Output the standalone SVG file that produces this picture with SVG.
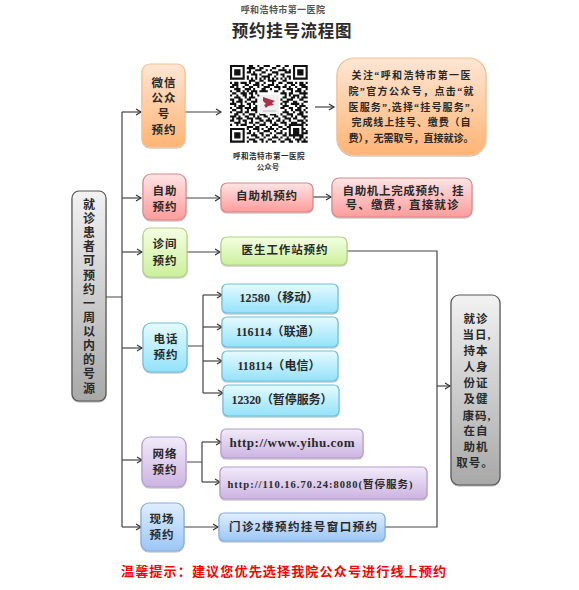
<svg xmlns="http://www.w3.org/2000/svg" width="579" height="590" viewBox="0 0 579 590">
<style>
text{font-family:"Liberation Serif","Noto Sans CJK SC",serif;font-weight:700;fill:#2a2a2a;text-anchor:middle}
.c{font-size:11.5px;letter-spacing:.9px}
.s{font-size:10px}
.l{fill:none;stroke:#444;stroke-width:1.2}
.a{fill:none;stroke:#444;stroke-width:1.2;marker-end:url(#ah)}
rect.o{fill:url(#go);stroke:#f7c08c}
rect.r{fill:url(#gr);stroke:#d88a8a}
rect.g{fill:url(#gg);stroke:#b4d088}
rect.b{fill:url(#gb);stroke:#6cc0dc}
rect.p{fill:url(#gp);stroke:#b49ccc}
rect.u{fill:url(#gu);stroke:#84aedc}
rect.k{fill:url(#gk);stroke:#555}
rect{stroke-width:1.2;filter:url(#sh)}
</style>
<defs>
<filter id="sh" x="-10%" y="-10%" width="120%" height="120%"><feDropShadow dx="0" dy="1" stdDeviation=".6" flood-color="#000" flood-opacity=".3"/></filter>
<marker id="ah" markerWidth="8" markerHeight="8" refX="6.5" refY="4" orient="auto" markerUnits="userSpaceOnUse"><path d="M1.5 1L6.5 4L1.5 7" fill="none" stroke="#333" stroke-width="1.2"/></marker>
<linearGradient id="go" x1="0" y1="0" x2="0" y2="1"><stop offset="0" stop-color="#ffe6d4"/><stop offset="1" stop-color="#ffb474"/></linearGradient>
<linearGradient id="gr" x1="0" y1="0" x2="0" y2="1"><stop offset="0" stop-color="#ffe4e4"/><stop offset="1" stop-color="#ff9c9c"/></linearGradient>
<linearGradient id="gg" x1="0" y1="0" x2="0" y2="1"><stop offset="0" stop-color="#f4ffe2"/><stop offset="1" stop-color="#ccf09c"/></linearGradient>
<linearGradient id="gb" x1="0" y1="0" x2="0" y2="1"><stop offset="0" stop-color="#e6faff"/><stop offset="1" stop-color="#94e2fa"/></linearGradient>
<linearGradient id="gp" x1="0" y1="0" x2="0" y2="1"><stop offset="0" stop-color="#f2ebf9"/><stop offset="1" stop-color="#ccb4e2"/></linearGradient>
<linearGradient id="gu" x1="0" y1="0" x2="0" y2="1"><stop offset="0" stop-color="#e0eeff"/><stop offset="1" stop-color="#9cc6f6"/></linearGradient>
<linearGradient id="gk" x1="0" y1="0" x2="0" y2="1"><stop offset="0" stop-color="#f2f2f2"/><stop offset="1" stop-color="#a8a8a8"/></linearGradient>
</defs>
<rect width="579" height="590" fill="#fff" style="filter:none;stroke:none"/>
<g id="header">
<text x="283" y="13" style="font-size:9px;fill:#555;letter-spacing:.4px">呼和浩特市第一医院</text>
<text x="292" y="37" style="font-size:16.5px;letter-spacing:.7px">预约挂号流程图</text>
</g>
<g id="connectors">
<path class="l" d="M106 297H122M122 112V527M188 346H203M203 295V393M187 462H202M202 442V482M347 251H437V527H385"/>
<path class="a" d="M122 112H141"/><path class="a" d="M122 198H141"/><path class="a" d="M122 252H142"/><path class="a" d="M122 348H142"/><path class="a" d="M122 460H142"/><path class="a" d="M122 527H141"/>
<path class="a" d="M185 112H221"/><path class="a" d="M315 107H334"/><path class="a" d="M186 198H220"/><path class="a" d="M313 197H331"/><path class="a" d="M187 252H220"/>
<path class="a" d="M203 295H222"/><path class="a" d="M203 327H222"/><path class="a" d="M203 361H222"/><path class="a" d="M203 393H223"/>
<path class="a" d="M202 442H221"/><path class="a" d="M202 482H220"/><path class="a" d="M184 527H218"/><path class="a" d="M437 386H450"/>
</g>
<g id="n-source"><rect class="k" x="72" y="191" width="34" height="210" rx="7"/>
<text class="c" style="font-size:12px;letter-spacing:0"><tspan x="89" y="209">就</tspan><tspan x="89" y="223">诊</tspan><tspan x="89" y="237">患</tspan><tspan x="89" y="251">者</tspan><tspan x="89" y="265">可</tspan><tspan x="89" y="280">预</tspan><tspan x="89" y="294">约</tspan><tspan x="89" y="308">一</tspan><tspan x="89" y="322">周</tspan><tspan x="89" y="336">以</tspan><tspan x="89" y="350">内</tspan><tspan x="89" y="364">的</tspan><tspan x="89" y="378">号</tspan><tspan x="89" y="393">源</tspan></text></g>
<g id="n-wechat"><rect class="o" x="142" y="64" width="43" height="83" rx="8"/>
<text class="c"><tspan x="164" y="87">微信</tspan><tspan x="164" y="102">公众</tspan><tspan x="164" y="118">号</tspan><tspan x="164" y="134">预约</tspan></text></g>
<g id="n-qr">
<g transform="translate(230 65) scale(2.1)"><path fill="none" stroke="#111" stroke-width="1" d="M0 .5h7M9 .5h2M13 .5h1M16 .5h3M22 .5h2M26 .5h2M30 .5h7M0 1.5h1M6 1.5h1M8 1.5h4M14 1.5h2M20 1.5h2M25 1.5h1M30 1.5h1M36 1.5h1M0 2.5h1M2 2.5h3M6 2.5h1M9 2.5h1M12 2.5h3M17 2.5h1M19 2.5h1M23 2.5h4M28 2.5h1M30 2.5h1M32 2.5h3M36 2.5h1M0 3.5h1M2 3.5h3M6 3.5h1M8 3.5h2M11 3.5h1M15 3.5h2M20 3.5h3M26 3.5h3M30 3.5h1M32 3.5h3M36 3.5h1M0 4.5h1M2 4.5h3M6 4.5h1M10 4.5h3M14 4.5h1M18 4.5h2M22 4.5h1M24 4.5h2M30 4.5h1M32 4.5h3M36 4.5h1M0 5.5h1M6 5.5h1M8 5.5h1M12 5.5h1M15 5.5h4M21 5.5h1M25 5.5h1M27 5.5h2M30 5.5h1M36 5.5h1M0 6.5h7M8 6.5h1M10 6.5h1M12 6.5h1M14 6.5h1M16 6.5h1M18 6.5h1M20 6.5h1M22 6.5h1M24 6.5h1M26 6.5h1M28 6.5h1M30 6.5h7M9 7.5h3M14 7.5h2M18 7.5h4M25 7.5h2M0 8.5h1M2 8.5h2M5 8.5h3M9 8.5h1M12 8.5h2M16 8.5h1M20 8.5h1M23 8.5h2M27 8.5h3M31 8.5h1M33 8.5h2M36 8.5h1M1 9.5h3M7 9.5h2M11 9.5h3M15 9.5h1M18 9.5h3M22 9.5h1M26 9.5h1M29 9.5h2M33 9.5h3M0 10.5h2M3 10.5h1M6 10.5h1M9 10.5h2M13 10.5h1M16 10.5h3M21 10.5h3M25 10.5h2M28 10.5h1M31 10.5h1M34 10.5h3M2 11.5h3M7 11.5h3M11 11.5h1M15 11.5h2M19 11.5h1M23 11.5h1M27 11.5h3M32 11.5h2M36 11.5h1M0 12.5h1M3 12.5h2M6 12.5h1M8 12.5h1M10 12.5h3M14 12.5h4M21 12.5h2M25 12.5h1M29 12.5h1M31 12.5h3M35 12.5h1M1 13.5h2M5 13.5h3M9 13.5h2M12 13.5h1M24 13.5h3M28 13.5h2M33 13.5h4M0 14.5h1M3 14.5h1M6 14.5h2M10 14.5h1M13 14.5h1M26 14.5h1M28 14.5h1M30 14.5h3M35 14.5h1M2 15.5h3M7 15.5h1M9 15.5h3M25 15.5h2M29 15.5h2M32 15.5h1M34 15.5h3M0 16.5h2M4 16.5h2M8 16.5h2M12 16.5h1M24 16.5h1M27 16.5h3M33 16.5h2M1 17.5h1M3 17.5h3M7 17.5h1M10 17.5h3M25 17.5h3M30 17.5h2M35 17.5h2M0 18.5h3M5 18.5h1M8 18.5h2M11 18.5h1M24 18.5h1M26 18.5h1M29 18.5h4M34 18.5h1M2 19.5h1M4 19.5h3M9 19.5h1M12 19.5h1M25 19.5h3M31 19.5h1M33 19.5h3M0 20.5h1M3 20.5h3M7 20.5h3M11 20.5h2M24 20.5h2M28 20.5h2M32 20.5h2M36 20.5h1M1 21.5h2M5 21.5h1M8 21.5h1M10 21.5h3M26 21.5h1M29 21.5h1M31 21.5h3M35 21.5h1M0 22.5h1M3 22.5h3M7 22.5h2M12 22.5h1M25 22.5h3M30 22.5h1M33 22.5h2M36 22.5h1M2 23.5h2M6 23.5h1M9 23.5h3M14 23.5h3M19 23.5h3M24 23.5h1M27 23.5h3M32 23.5h3M0 24.5h3M4 24.5h1M7 24.5h2M11 24.5h1M13 24.5h1M16 24.5h2M21 24.5h2M25 24.5h2M29 24.5h1M31 24.5h1M34 24.5h3M1 25.5h1M3 25.5h3M8 25.5h3M12 25.5h3M18 25.5h1M20 25.5h1M23 25.5h1M26 25.5h3M30 25.5h2M35 25.5h1M0 26.5h2M4 26.5h1M6 26.5h2M10 26.5h1M14 26.5h2M17 26.5h3M22 26.5h2M25 26.5h1M28 26.5h1M32 26.5h3M36 26.5h1M2 27.5h3M7 27.5h1M9 27.5h2M12 27.5h2M16 27.5h1M19 27.5h1M21 27.5h1M24 27.5h3M29 27.5h3M34 27.5h2M0 28.5h1M3 28.5h1M5 28.5h3M11 28.5h1M14 28.5h3M20 28.5h3M26 28.5h1M28 28.5h7M36 28.5h1M8 29.5h3M12 29.5h2M17 29.5h1M19 29.5h1M23 29.5h2M27 29.5h2M28 29.5h1M34 29.5h1M0 30.5h7M8 30.5h1M11 30.5h3M15 30.5h1M18 30.5h3M22 30.5h1M25 30.5h2M28 30.5h1M30 30.5h3M34 30.5h2M0 31.5h1M6 31.5h1M9 31.5h1M13 31.5h1M16 31.5h3M21 31.5h1M24 31.5h1M28 31.5h1M30 31.5h3M34 31.5h1M36 31.5h1M0 32.5h1M2 32.5h3M6 32.5h1M8 32.5h2M11 32.5h1M14 32.5h2M19 32.5h1M22 32.5h3M26 32.5h1M28 32.5h1M30 32.5h3M34 32.5h3M0 33.5h1M2 33.5h3M6 33.5h1M10 33.5h3M15 33.5h1M17 33.5h2M21 33.5h1M25 33.5h2M28 33.5h7M0 34.5h1M2 34.5h3M6 34.5h1M8 34.5h1M12 34.5h2M16 34.5h1M20 34.5h3M24 34.5h1M27 34.5h1M30 34.5h1M33 34.5h2M36 34.5h1M0 35.5h1M6 35.5h1M9 35.5h3M14 35.5h2M18 35.5h2M23 35.5h1M26 35.5h3M31 35.5h3M35 35.5h1M0 36.5h7M8 36.5h1M11 36.5h2M15 36.5h1M17 36.5h1M20 36.5h2M24 36.5h2M28 36.5h2M32 36.5h1M34 36.5h3"/></g>
<path fill="#f0f0f0" d="M260 95h19v19h-19z"/>
<path fill="#a8324a" d="M263 97l12 4-3 2 2 2-6 1-2 2-2-3 2-1-3-3z"/>
<path stroke="#bbb" stroke-width="1" d="M263 111h13"/>
<text x="269" y="159" style="font-size:7.5px;letter-spacing:.5px">呼和浩特市第一医院</text>
<text x="268" y="170" style="font-size:7.5px;fill:#444">公众号</text>
</g>
<g id="n-wechat-info"><rect class="o" x="337" y="58" width="149" height="97" rx="17"/>
<text class="s" x="411" y="79" textLength="119">关注“呼和浩特市第一医</text>
<text class="s" x="411" y="95" textLength="125">院”官方公众号，点击“就</text>
<text class="s" x="411" y="111" textLength="125">医服务”,选择“挂号服务”,</text>
<text class="s" x="411" y="126" textLength="119">完成线上挂号、缴费（自</text>
<text class="s" x="411" y="142" textLength="125">费），无需取号，直接就诊。</text></g>
<g id="n-self"><rect class="r" x="143" y="174" width="43" height="46" rx="8"/><text class="c"><tspan x="165" y="195">自助</tspan><tspan x="165" y="211">预约</tspan></text></g>
<g id="n-self-kiosk"><rect class="r" x="221" y="183" width="92" height="29" rx="6"/><text class="c" x="267" y="200">自助机预约</text></g>
<g id="n-self-info"><rect class="r" x="332" y="178" width="140" height="39" rx="7"/>
<text x="403" y="195" textLength="121" style="font-size:11.5px">自助机上完成预约、挂</text>
<text x="402" y="209" textLength="113" style="font-size:11.5px">号、缴费，直接就诊</text></g>
<g id="n-clinic"><rect class="g" x="143" y="228" width="44" height="49" rx="7"/><text class="c"><tspan x="165" y="248">诊间</tspan><tspan x="165" y="265">预约</tspan></text></g>
<g id="n-clinic-ws"><rect class="g" x="221" y="237" width="126" height="28" rx="6"/><text class="c" x="285" y="254">医生工作站预约</text></g>
<g id="n-phone"><rect class="b" x="143" y="323" width="44" height="49" rx="8"/><text class="c"><tspan x="166" y="343">电话</tspan><tspan x="166" y="359">预约</tspan></text></g>
<g id="n-p1"><rect class="b" x="222" y="284" width="116" height="29" rx="5"/><text x="279" y="302" textLength="79" style="font-size:12px">12580（移动）</text></g>
<g id="n-p2"><rect class="b" x="222" y="317" width="116" height="30" rx="5"/><text x="278" y="336" textLength="84" style="font-size:12px">116114（联通）</text></g>
<g id="n-p3"><rect class="b" x="222" y="351" width="116" height="30" rx="5"/><text x="279" y="370" textLength="83" style="font-size:12px">118114（电信）</text></g>
<g id="n-p4"><rect class="b" x="223" y="385" width="116" height="31" rx="5"/><text x="282" y="404" textLength="101" style="font-size:12px">12320（暂停服务）</text></g>
<g id="n-net"><rect class="p" x="142" y="437" width="44" height="50" rx="8"/><text class="c"><tspan x="165" y="458">网络</tspan><tspan x="165" y="474">预约</tspan></text></g>
<g id="n-net1"><rect class="p" x="221" y="429" width="142" height="29" rx="5"/><text x="292" y="447" textLength="125" style="font-size:13px">http://www.yihu.com</text></g>
<g id="n-net2"><rect class="p" x="220" y="467" width="207" height="32" rx="5"/><text x="320" y="488" textLength="185" style="font-size:10.5px">http://110.16.70.24:8080(暂停服务)</text></g>
<g id="n-site"><rect class="u" x="141" y="503" width="43" height="48" rx="8"/><text class="c"><tspan x="162" y="523">现场</tspan><tspan x="162" y="539">预约</tspan></text></g>
<g id="n-site-win"><rect class="u" x="219" y="513" width="166" height="28" rx="5"/><text x="303" y="531" textLength="148" style="font-size:11.5px">门诊2楼预约挂号窗口预约</text></g>
<g id="n-visit"><rect class="k" x="451" y="295" width="49" height="190" rx="8"/>
<text style="font-size:11.5px;letter-spacing:1px"><tspan x="476" y="323">就诊</tspan><tspan x="477" y="339">当日,</tspan><tspan x="476" y="355">持本</tspan><tspan x="476" y="371">人身</tspan><tspan x="476" y="387">份证</tspan><tspan x="476" y="403">及健</tspan><tspan x="477" y="420">康码,</tspan><tspan x="476" y="435">在自</tspan><tspan x="476" y="451">助机</tspan><tspan x="475" y="467">取号。</tspan></text></g>
<g id="note"><text x="283.500" y="576" textLength="325" style="font-size:13px;fill:#f00">温馨提示：建议您优先选择我院公众号进行线上预约</text></g>
</svg>
